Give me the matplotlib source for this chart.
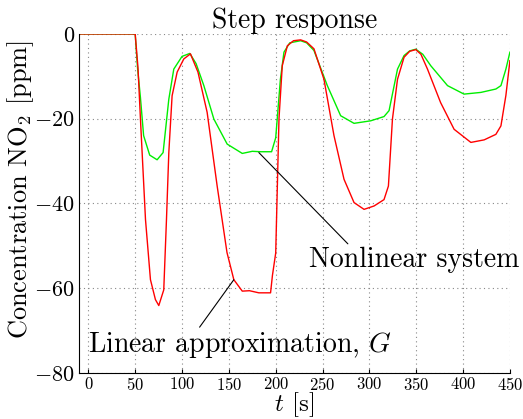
import numpy as np
import matplotlib
matplotlib.use("Agg")
import matplotlib.pyplot as plt

plt.rcParams['font.family'] = ['cmr10', 'DejaVu Serif']
plt.rcParams['mathtext.fontset'] = 'cm'
plt.rcParams['axes.formatter.use_mathtext'] = True

# Linear approximation G (red)
t_lin = [-10, 50, 53, 55.6, 61, 66.3, 71.6, 75.2, 80.5, 83.4, 85.9, 89.4, 94.8, 101.9, 109,
         117, 126.8, 137.5, 148, 155.3, 164.3, 172, 182, 194.5, 196.5, 200, 203.5, 207,
         212.4, 219, 226.6, 233, 240.8, 251.5, 262.2, 272.9, 283.6, 294.3, 305, 315.6,
         320.3, 324.6, 330, 337, 343, 349.5, 355, 362, 376, 390.4, 408.3, 422.5, 435,
         440.4, 445.7, 450]
y_lin = [0, 0, -8, -20, -43.8, -58, -62.7, -64.1, -60.4, -43.8, -28, -14.6, -9, -5.9, -4.7,
         -9, -18.5, -35.9, -51.6, -58, -60.7, -60.6, -61.1, -61.1, -57, -51.7, -20, -7.5,
         -2.8, -1.6, -1.4, -1.9, -3.5, -10.7, -24, -34.3, -39.8, -41.4, -40.6, -39.1,
         -35.9, -20.1, -10.7, -5.5, -4.1, -3.7, -4.8, -8.3, -16.2, -22.5, -25.6, -25, -23.7,
         -21.7, -14.5, -6.3]

# Nonlinear system (green)
t_nl = [-10, 50, 52.5, 55.6, 59, 65.5, 73.4, 79.8, 85.9, 91.2, 100, 108.3, 115, 123.3, 134,
        148.2, 164.3, 175, 184, 195.6, 200, 205, 208.8, 215, 226.6, 233, 240.8, 255.1,
        269.3, 283.6, 301.4, 315.6, 321, 330, 337, 343, 349.5, 357, 365.5, 383.4, 401,
        419, 435, 440.4, 445.7, 450]
y_nl = [0, 0, -8, -15, -24, -28.6, -29.7, -28, -15.4, -8.3, -5.3, -4.6, -7, -12.2, -20.1,
        -26, -28.2, -27.7, -27.8, -27.8, -24.5, -10.7, -4.3, -2.1, -1.6, -2.1, -3.9, -12.2,
        -19.3, -21.1, -20.5, -19.5, -18.1, -8.3, -5.1, -4.0, -3.6, -4.8, -7.5, -12.2, -14.2,
        -13.8, -13, -12.2, -8.3, -4.3]

x_ticks = [0, 50, 100, 150, 200, 250, 300, 350, 400, 450]
y_ticks = [-80, -60, -40, -20, 0]

fig = plt.figure(figsize=(5.23, 4.19), dpi=100)
ax = fig.add_axes([0.151, 0.110, 0.824, 0.809])

ax.plot(t_nl, y_nl, color='#00ee00', lw=1.0)
ax.plot(t_lin, y_lin, color='#ff0000', lw=1.0)

ax.set_xlim(-10, 450)
ax.set_ylim(-80, 0)
ax.set_xticks(x_ticks)
ax.set_yticks(y_ticks)
ax.grid(True, linestyle=(0, (1, 3)), color='#888888', lw=0.8)
for s in ['top', 'right']:
    ax.spines[s].set_visible(False)
ax.tick_params(axis='x', direction='in', length=3, labelsize=12, pad=2)
ax.tick_params(axis='y', direction='in', length=0, labelsize=16, pad=3)

ax.set_title('Step response', fontsize=20, pad=2)
ax.set_xlabel('$t$ [s]', fontsize=18, labelpad=-1.5)
ax.set_ylabel('Concentration NO$_2$ [ppm]', fontsize=19)
ax.yaxis.set_label_coords(-0.10, 0.54)

ax.annotate('Nonlinear system', xy=(182, -28), xytext=(235, -53.3),
            fontsize=20, ha='left', va='center',
            arrowprops=dict(arrowstyle='-', color='black', lw=0.8,
                            shrinkA=0, shrinkB=0, relpos=(0.2, 1.0)))
ax.annotate('Linear approximation, $G$', xy=(155.3, -58), xytext=(0, -73.4),
            fontsize=20, ha='left', va='center',
            arrowprops=dict(arrowstyle='-', color='black', lw=0.8,
                            shrinkA=0, shrinkB=0, relpos=(0.36, 1.0)))

fig.savefig('out.png', dpi=100)
